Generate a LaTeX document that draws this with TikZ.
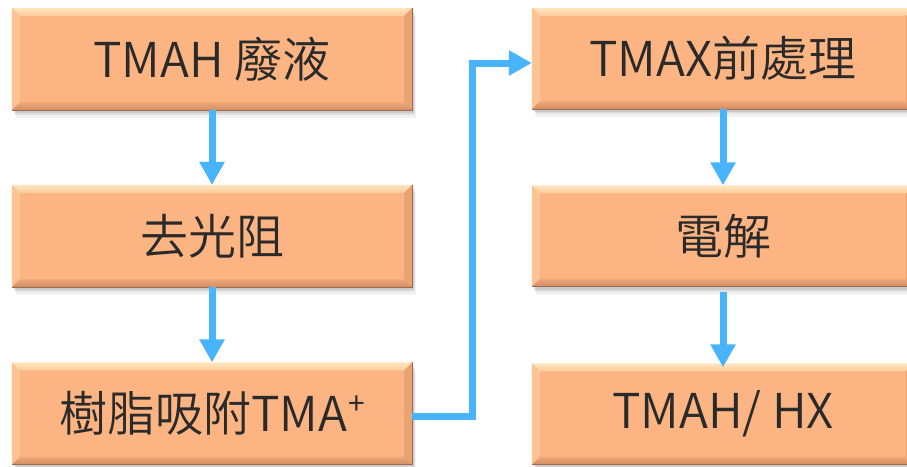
\documentclass[tikz,border=0pt]{standalone}
\usepackage{fontspec}
\IfFontExistsTF{Noto Sans CJK TC DemiLight}
  {\setmainfont{Noto Sans CJK TC DemiLight}}
  {\IfFontExistsTF{Noto Sans CJK TC Light}
    {\setmainfont{Noto Sans CJK TC Light}}
    {\setmainfont{Noto Sans CJK TC}}}
\newfontfamily\plusfont{Noto Sans CJK TC}
\usetikzlibrary{arrows.meta}
\definecolor{boxfill}{HTML}{FCB582}
\definecolor{bevtopA}{HTML}{FFE6BE}
\definecolor{bevtopB}{HTML}{FDCB9B}
\definecolor{bevleft}{HTML}{FDC493}
\definecolor{bevright}{HTML}{E9A272}
\definecolor{bevbotA}{HTML}{F0A878}
\definecolor{bevbotB}{HTML}{D18C62}
\definecolor{edgecol}{HTML}{9C6C52}
\definecolor{flow}{HTML}{48B4FE}
\definecolor{txt}{HTML}{2A2A2A}
\tikzset{
  stepbox/.style={rectangle, fill=boxfill, inner sep=0pt, text=txt,
    font=\fontsize{48}{52}\selectfont,
    preaction={fill=black, opacity=0.05, transform canvas={shift={(4pt,-8pt)}}},
    preaction={fill=black, opacity=0.07, transform canvas={shift={(3pt,-5pt)}}},
    preaction={fill=black, opacity=0.10, transform canvas={shift={(2pt,-3pt)}}}},
  leftbox/.style={stepbox, minimum width=400pt, minimum height=102pt},
  rightbox/.style={stepbox, minimum width=382pt, minimum height=101pt},
  flowarrow/.style={draw=flow, line width=7pt, line join=miter,
    -{Triangle[width=24pt,length=23pt]}},
}
\newcommand\bevelbox[1]{%
  \shade[top color=bevtopA, bottom color=bevtopB] (#1.north west) -- (#1.north east)
    -- ([shift={(-8pt,-8pt)}]#1.north east) -- ([shift={(8pt,-8pt)}]#1.north west) -- cycle;
  \fill[bevleft] (#1.north west) -- ([shift={(8pt,-8pt)}]#1.north west)
    -- ([shift={(8pt,8pt)}]#1.south west) -- (#1.south west) -- cycle;
  \fill[bevright] (#1.north east) -- ([shift={(-8pt,-8pt)}]#1.north east)
    -- ([shift={(-8pt,8pt)}]#1.south east) -- (#1.south east) -- cycle;
  \shade[top color=bevbotA, bottom color=bevbotB] (#1.south west) -- (#1.south east)
    -- ([shift={(-8pt,8pt)}]#1.south east) -- ([shift={(8pt,8pt)}]#1.south west) -- cycle;
  \draw[edgecol, line width=0.8pt] (#1.north east) -- (#1.south east) -- (#1.south west);
}
\newcommand\supplus{\kern1pt\raisebox{0.36em}{\plusfont\fontsize{30}{30}\selectfont +}}
\begin{document}
\begin{tikzpicture}[x=1pt,y=1pt]
\useasboundingbox (0,0) rectangle (907,-466);
\clip (0,0) rectangle (907,-466);
\node[leftbox] (a1) at (212,-59) {TMAH 廢液};
\node[leftbox] (a2) at (212,-236) {去光阻};
\node[leftbox] (a3) at (212,-413.5) {樹脂吸附TMA\supplus};
\node[rightbox] (b1) at (723,-58.5) {TMAX前處理};
\node[rightbox] (b2) at (723,-236) {電解};
\node[rightbox] (b3) at (723,-414) {TMAH/ HX};
\bevelbox{a1}\bevelbox{a2}\bevelbox{a3}
\bevelbox{b1}\bevelbox{b2}\bevelbox{b3}
\coordinate (c1) at (472,-416);
\coordinate (c2) at (472,-63);
\draw[flowarrow] (a1.south) -- (a2.north);
\draw[flowarrow] (a2.south) -- (a3.north);
\draw[flowarrow] (b1.south) -- (b2.north);
\draw[flowarrow] ([yshift=-5pt]b2.south) -- ([yshift=-4pt]b3.north);
\draw[flowarrow] (a3.east |- c1) -- (c1) -- (c2) -- (b1.west |- c2);
\end{tikzpicture}
\end{document}
